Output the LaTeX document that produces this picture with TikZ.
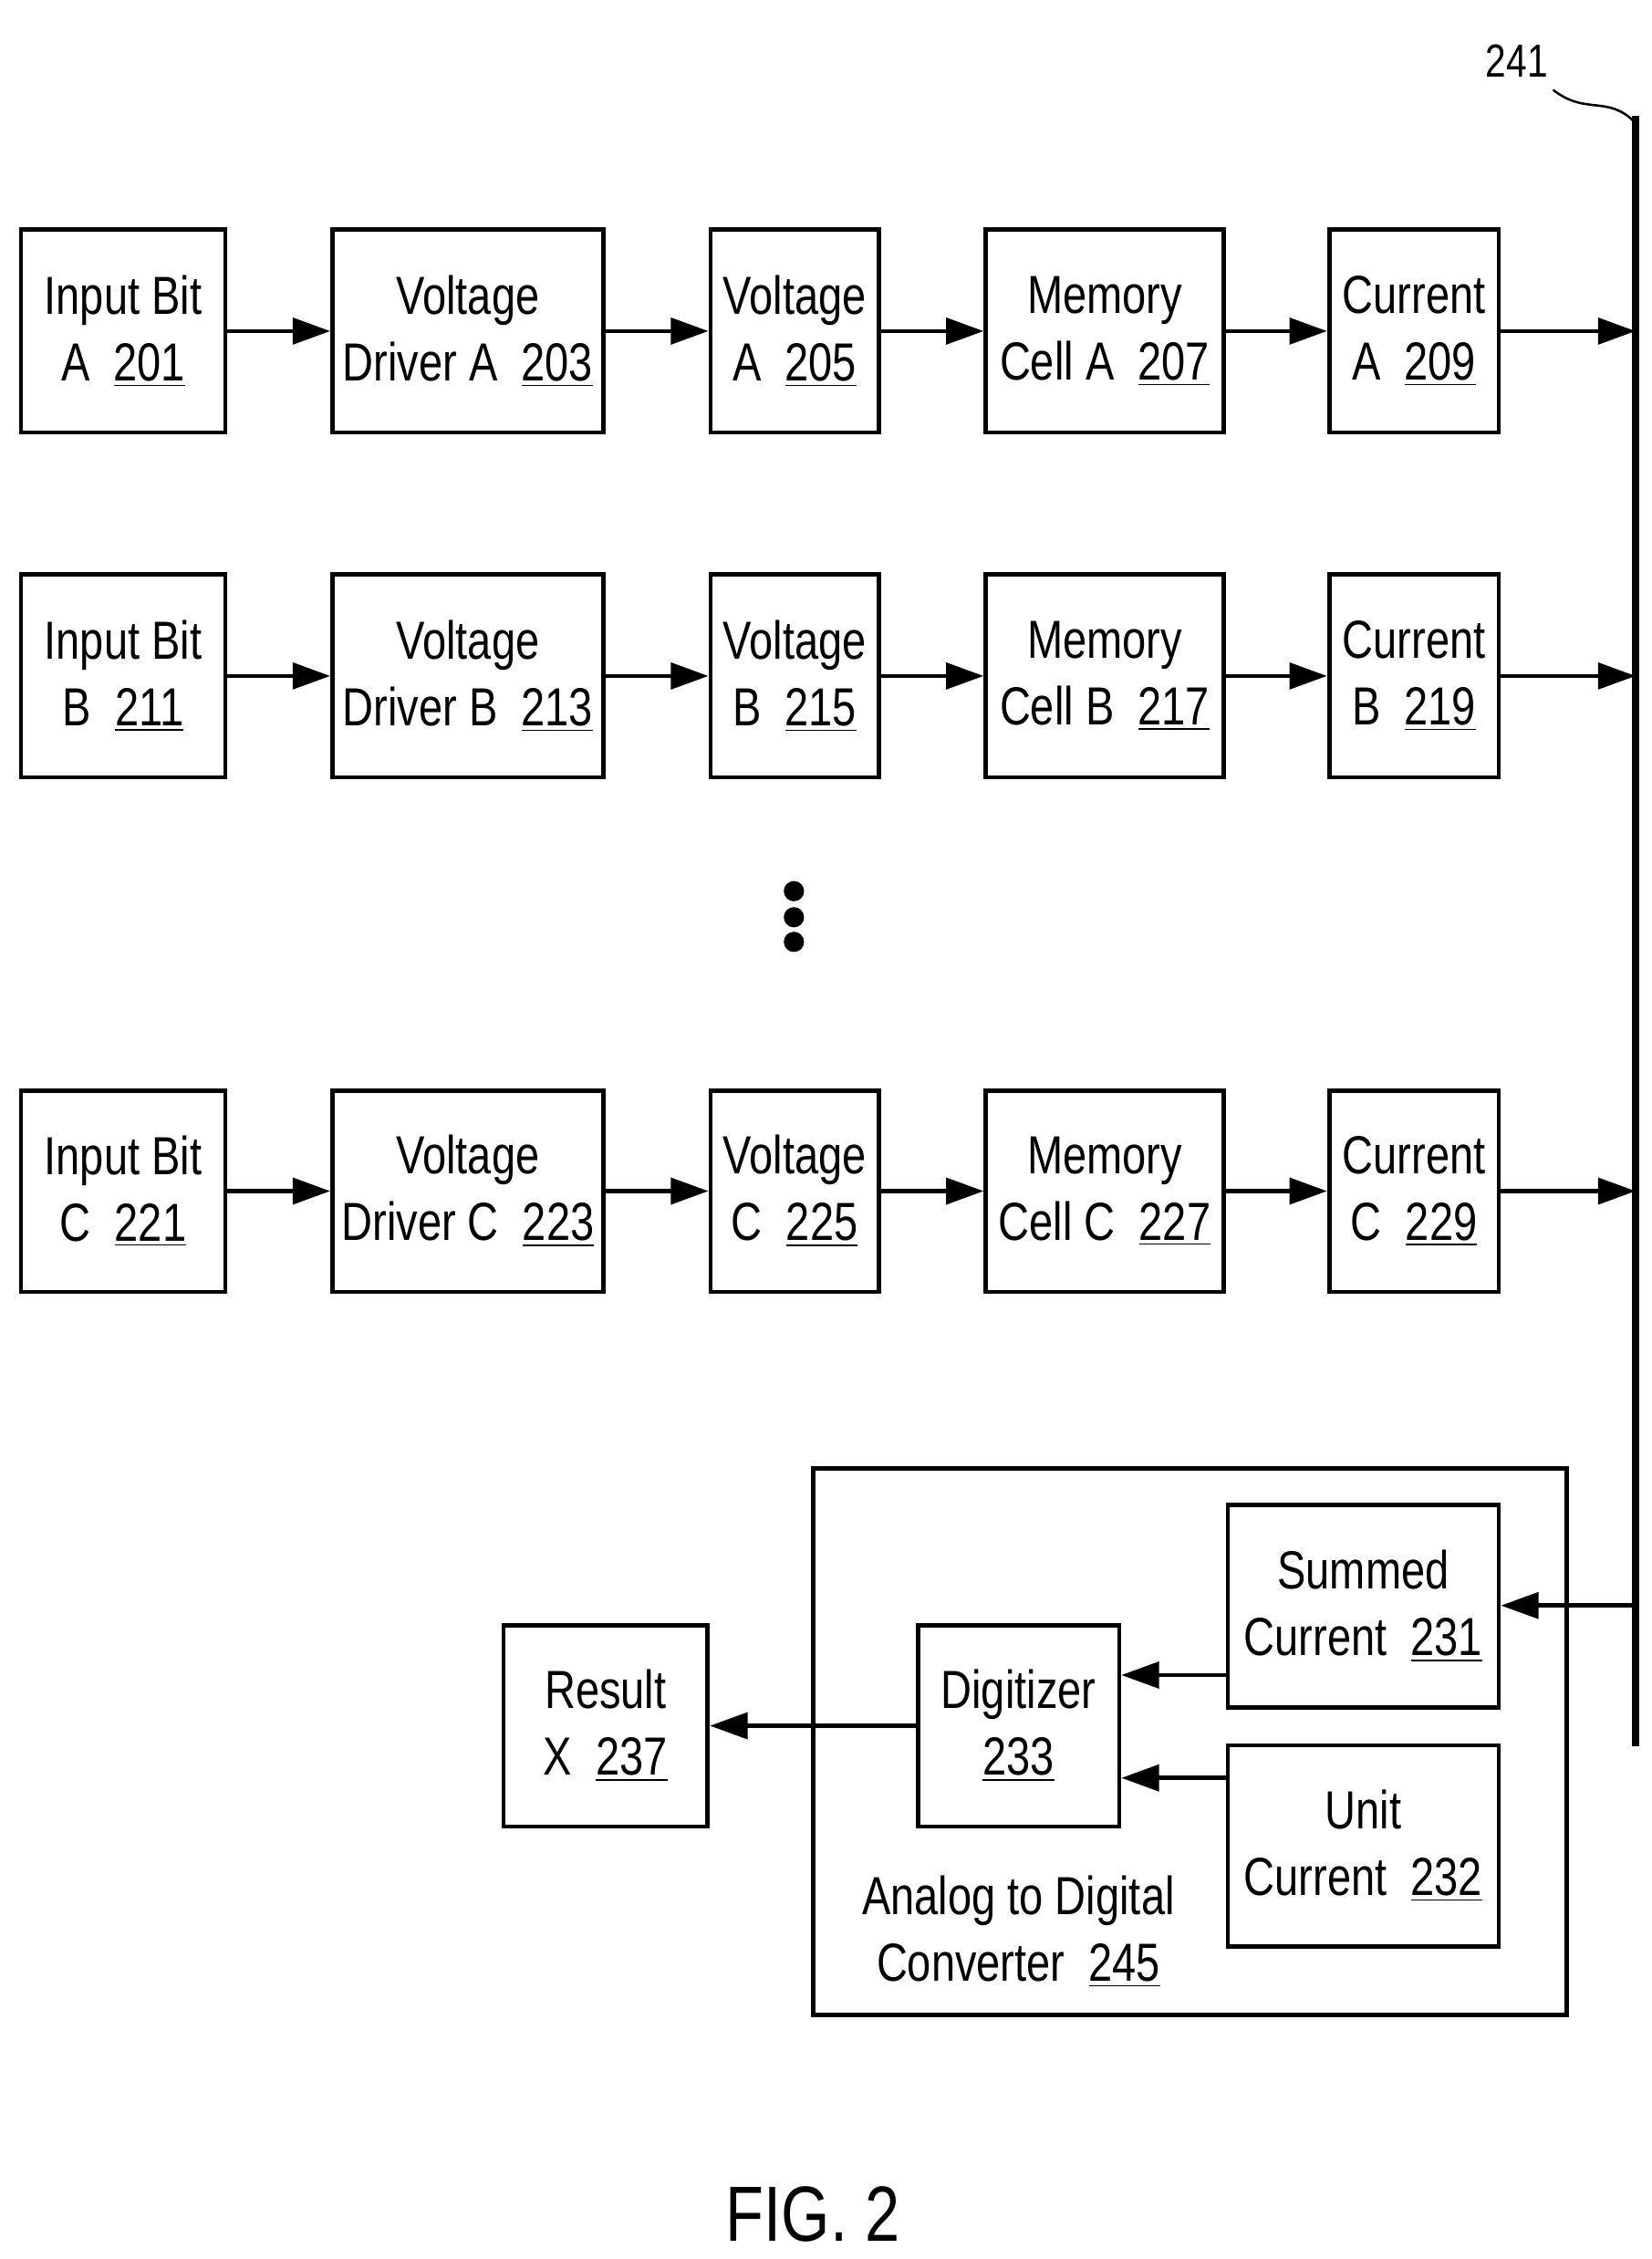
\documentclass[tikz,border=0pt]{standalone}
\usepackage{fontspec}
\setmainfont[FakeStretch=0.8]{Liberation Sans}
\usetikzlibrary{arrows.meta}
\newcommand{\num}[1]{\underline{#1}}
\begin{document}
\begin{tikzpicture}[x=0.5pt,y=-0.5pt,
  blk/.style={draw,line width=1.5pt,align=center,inner sep=0pt,font=\fontsize{18.5}{23}\selectfont},
  arr/.style={line width=1.5pt,-{Triangle[length=13pt,width=9pt]}}]
\useasboundingbox (0,0) rectangle (1140,1559);
\newcommand{\bx}[6]{\node[blk,minimum width={(#4-#2-3)*0.5pt},minimum height={(#5-#3-3)*0.5pt}] (#1) at ({(#2+#4)/2},{(#3+#5)/2}) {#6};}
\foreach \r/\L/\ya/\yb/\n in {a/A/157/300/0,b/B/395/538/1,c/C/751/893/2}{
  \bx{in\r}{13}{\ya}{157}{\yb}{Input Bit\\\L~~\num{2\n1}}
  \bx{dr\r}{228}{\ya}{418}{\yb}{Voltage\\Driver \L~~\num{2\n3}}
  \bx{vo\r}{489}{\ya}{608}{\yb}{Voltage\\\L~~\num{2\n5}}
  \bx{me\r}{679}{\ya}{846}{\yb}{Memory\\Cell \L~~\num{2\n7}}
  \bx{cu\r}{916}{\ya}{1036}{\yb}{Current\\\L~~\num{2\n9}}
  \coordinate (bus\r) at (1129,{(\ya+\yb)/2});
  \draw[arr] (in\r) -- (dr\r);
  \draw[arr] (dr\r) -- (vo\r);
  \draw[arr] (vo\r) -- (me\r);
  \draw[arr] (me\r) -- (cu\r);
  \draw[arr] (cu\r) -- (bus\r);
}
\coordinate (bt) at (1129,80);
\coordinate (bb) at (1129,1205);
\draw[line width=2.5pt] (bt) -- (bb);
\node[font=\fontsize{16}{19}\selectfont] (l241) at (1047,42) {241};
\draw[line width=0.8pt] (1072,62) .. controls (1095,80) and (1110,65) .. (1129,85);
\foreach \y in {615,633,650} \fill (548,\y) circle (7);
\bx{adc}{560}{1012}{1083}{1392}{}
\bx{sum}{846}{1037}{1036}{1180}{Summed\\Current~~\num{231}}
\bx{unit}{846}{1203}{1036}{1345}{Unit\\Current~~\num{232}}
\bx{dig}{632}{1120}{774}{1262}{Digitizer\\\num{233}}
\bx{res}{346}{1120}{490}{1262}{Result\\X~~\num{237}}
\node[align=center,font=\fontsize{18.5}{23}\selectfont] (adcl) at (703,1333) {Analog to Digital\\Converter~~\num{245}};
\coordinate (bs) at (1129,1108);
\coordinate (s1) at (846,1156);
\coordinate (d1) at (774,1156);
\coordinate (u1) at (846,1227);
\coordinate (d2) at (774,1227);
\draw[arr] (bs) -- (sum.east|-bs);
\draw[arr] (s1) -- (d1);
\draw[arr] (u1) -- (d2);
\draw[arr] (dig) -- (res);
\node[font=\fontsize{27}{32}\selectfont] (fig) at (561,1528) {FIG. 2};
\end{tikzpicture}
\end{document}
